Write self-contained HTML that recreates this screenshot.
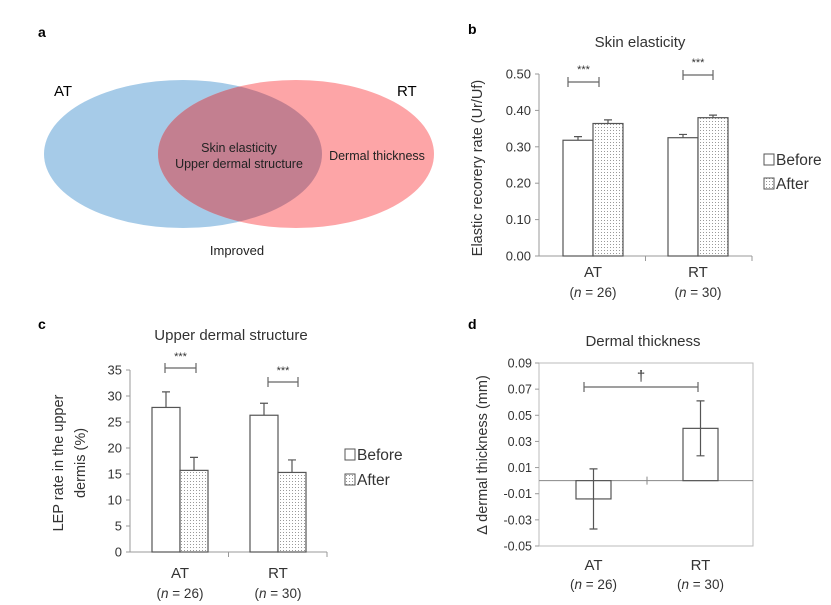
<!DOCTYPE html>
<html><head><meta charset="utf-8"><style>
body{margin:0;background:#fff;}
svg{display:block;font-family:"Liberation Sans",Verdana,sans-serif;}
</style></head><body>
<svg id="fig" width="831" height="605" viewBox="0 0 831 605" xmlns="http://www.w3.org/2000/svg">
<defs>
<pattern id="dots" width="3" height="3" patternUnits="userSpaceOnUse"><rect width="3" height="3" fill="#fff"/><rect x="1" y="1" width="1" height="1" fill="#999"/></pattern>
<clipPath id="redclip"><ellipse cx="296" cy="154" rx="138" ry="74"/></clipPath>
</defs>
<g>
<text x="38" y="37" font-size="14" font-weight="bold">a</text>
<ellipse cx="183" cy="154" rx="139" ry="74" fill="#a6cbe8"/>
<ellipse cx="296" cy="154" rx="138" ry="74" fill="#fda5a7"/>
<ellipse cx="183" cy="154" rx="139" ry="74" fill="#c37f90" clip-path="url(#redclip)"/>
<text x="54" y="96" font-size="15">AT</text>
<text x="397" y="96" font-size="15">RT</text>
<text x="239" y="152" font-size="12.5" text-anchor="middle" fill="#222">Skin elasticity</text>
<text x="239" y="168" font-size="12.5" text-anchor="middle" fill="#222">Upper dermal structure</text>
<text x="377" y="160" font-size="12.5" text-anchor="middle" fill="#222">Dermal thickness</text>
<text x="237" y="255" font-size="13" text-anchor="middle" fill="#222">Improved</text>
</g>
<g id="pb"></g><g id="pc"></g><g id="pd"></g>
</svg>
<script>
const groups=["AT","RT"];
const groupN=["(n = 26)","(n = 30)"];
const bBefore=[0.318,0.325];
const bAfter=[0.364,0.380];
const bBeforeErr=[0.010,0.009];
const bAfterErr=[0.010,0.007];
const bTicks=[0,0.1,0.2,0.3,0.4,0.5];
const cBefore=[27.8,26.3];
const cAfter=[15.7,15.3];
const cBeforeErr=[3.0,2.3];
const cAfterErr=[2.5,2.4];
const cTicks=[0,5,10,15,20,25,30,35];
const dValues=[-0.014,0.040];
const dErr=[0.023,0.021];
const dTicks=[-0.05,-0.03,-0.01,0.01,0.03,0.05,0.07,0.09];
const NS="http://www.w3.org/2000/svg";
function el(parent,tag,attrs,text){const e=document.createElementNS(NS,tag);for(const k in attrs)e.setAttribute(k,attrs[k]);if(text!==undefined)e.textContent=text;parent.appendChild(e);return e;}
function nText(g,x,y,s){const t=el(g,"text",{x:x,y:y,"font-size":13.5,"text-anchor":"middle",fill:"#333"});


const parts=s.split("n");el(t,"tspan",{},parts[0]);el(t,"tspan",{"font-style":"italic"},"n");el(t,"tspan",{},parts[1]);}
function legend(g,x,y1,y2){
 [["Before",y1,"#fff"],["After",y2,"url(#dots)"]].forEach(([lab,y,f])=>{
  const r=el(g,"rect",{x:x,y:y-10,width:10,height:11,fill:f,stroke:"#555","stroke-width":1});
  
  
  const t=el(g,"text",{x:x+12,y:y+1,"font-size":15.5,fill:"#333"},lab);
  
  
 });
}
function sig(g,x1,x2,y,label,ly){
 const l=el(g,"path",{d:`M${x1},${y}H${x2}M${x1},${y-5}V${y+5}M${x2},${y-5}V${y+5}`,stroke:"#666","stroke-width":1.2,fill:"none"});
 
 
 const t=el(g,"text",{x:(x1+x2)/2,y:ly,"font-size":label==="***"?11:15,"text-anchor":"middle",fill:"#333"},label);
 
 
}
function barPanel(g,o){
 const ys=v=>o.y0+(v-o.min)/(o.max-o.min)*(o.y1-o.y0);
 const lab=el(g,"text",{x:o.lx,y:o.ly,"font-size":14,"font-weight":"bold"},o.letter);
 
 
 const ti=el(g,"text",{x:o.tx,y:o.ty,"font-size":15,"text-anchor":"middle",fill:"#333"},o.title);
 
 
 const ax=el(g,"path",{d:`M${o.ax0},${o.y1}V${o.y0}H${o.ax1}M${(o.ax0+o.ax1)/2},${o.y0}v5M${o.ax1},${o.y0}v5`,stroke:"#999",fill:"none","stroke-width":1});
 
 
 o.ticks.forEach(v=>{const y=ys(v);
  const tk=el(g,"line",{x1:o.ax0-4,x2:o.ax0,y1:y,y2:y,stroke:"#999"});
  
  
  const t=el(g,"text",{x:o.ax0-8,y:y+4.5,"font-size":13,"text-anchor":"end",fill:"#333"},o.fmt(v));
  
  });
 groups.forEach((gname,i)=>{
  const bx=o.gx[i];
  [[o.before,o.beforeErr,"#fff",0],[o.after,o.afterErr,"url(#dots)",1]].forEach(([vals,errs,f,k])=>{
   const x=bx+k*o.bw, y=ys(vals[i]);
   const r=el(g,"rect",{x:x,y:y,width:o.bw,height:o.y0-y,fill:f,stroke:"#555","stroke-width":1.2});
   
   
   const ye=ys(vals[i]+errs[i]);
   const e=el(g,"path",{d:`M${x+o.bw/2},${y}V${ye}M${x+o.bw/2-4},${ye}H${x+o.bw/2+4}`,stroke:"#555","stroke-width":1.2,fill:"none"});
   
   
  });
  const c=el(g,"text",{x:bx+o.bw,y:o.catY,"font-size":15,"text-anchor":"middle",fill:"#333"},gname);
  
  
  nText(g,bx+o.bw,o.catY+20,groupN[i]);
 });
}
const pb=document.getElementById("pb");
barPanel(pb,{letter:"b",lx:468,ly:34,title:"Skin elasticity",tx:640,ty:47,min:0,max:0.5,y0:256,y1:74,ax0:539,ax1:752,ticks:bTicks,fmt:v=>v.toFixed(2),gx:[563,668],bw:30,before:bBefore,after:bAfter,beforeErr:bBeforeErr,afterErr:bAfterErr,catY:277});
sig(pb,568,599,82,"***",73);
sig(pb,683,713,75,"***",66);
let yl=el(pb,"text",{transform:"translate(482,168) rotate(-90)","font-size":14.5,"text-anchor":"middle",fill:"#333"},"Elastic recorery rate (Ur/Uf)");


legend(pb,764,164,188);

const pc=document.getElementById("pc");
barPanel(pc,{letter:"c",lx:38,ly:329,title:"Upper dermal structure",tx:231,ty:340,min:0,max:35,y0:552,y1:370,ax0:130,ax1:327,ticks:cTicks,fmt:v=>String(v),gx:[152,250],bw:28,before:cBefore,after:cAfter,beforeErr:cBeforeErr,afterErr:cAfterErr,catY:578});
sig(pc,165,196,368,"***",360);
sig(pc,268,298,382,"***",374);
yl=el(pc,"text",{transform:"translate(63,463) rotate(-90)","font-size":14.5,"text-anchor":"middle",fill:"#333"},"LEP rate  in the upper");


yl=el(pc,"text",{transform:"translate(85,463) rotate(-90)","font-size":14.5,"text-anchor":"middle",fill:"#333"},"dermis (%)");


legend(pc,345,459,484);

const pd=document.getElementById("pd");
(function(){
 const min=-0.05,max=0.09,yb=546,yt=363,x0=539,x1=753;
 const ys=v=>yb+(v-min)/(max-min)*(yt-yb);
 const lab=el(pd,"text",{x:468,y:329,"font-size":14,"font-weight":"bold"},"d");
 
 
 const ti=el(pd,"text",{x:643,y:346,"font-size":15,"text-anchor":"middle",fill:"#333"},"Dermal thickness");
 
 
 const box=el(pd,"rect",{x:x0,y:yt,width:x1-x0,height:yb-yt,fill:"none",stroke:"#bbb"});
 
 
 dTicks.forEach(v=>{const y=ys(v);
  const tk=el(pd,"line",{x1:x0-4,x2:x0,y1:y,y2:y,stroke:"#999"});
  
  
  const t=el(pd,"text",{x:x0-7,y:y+4.5,"font-size":12.5,"text-anchor":"end",fill:"#333"},v.toFixed(2));
  
  });
 const z=ys(0);
 const zl=el(pd,"path",{d:`M${x0},${z}H${x1}M${(x0+x1)/2+1},${z-4}v8`,stroke:"#888",fill:"none"});
 
 
 const bx=[576,683],bw=35;
 groups.forEach((gname,i)=>{
  const y=ys(dValues[i]);
  const r=el(pd,"rect",{x:bx[i],y:Math.min(y,z),width:bw,height:Math.abs(z-y),fill:"#fff",stroke:"#555","stroke-width":1.2});
  
  
  const cx=bx[i]+bw/2,ya=ys(dValues[i]+dErr[i]),yb2=ys(dValues[i]-dErr[i]);
  const e=el(pd,"path",{d:`M${cx},${ya}V${yb2}M${cx-4},${ya}H${cx+4}M${cx-4},${yb2}H${cx+4}`,stroke:"#555","stroke-width":1.2,fill:"none"});
  
  
  const c=el(pd,"text",{x:cx,y:570,"font-size":15,"text-anchor":"middle",fill:"#333"},gname);
  
  
  nText(pd,cx,589,groupN[i]);
 });
 sig(pd,584,698,387,"†",381);
 const yl=el(pd,"text",{transform:"translate(487,455) rotate(-90)","font-size":14.5,"text-anchor":"middle",fill:"#333"},"Δ dermal thickness (mm)");
 
 
})();
</script>
</body></html>
